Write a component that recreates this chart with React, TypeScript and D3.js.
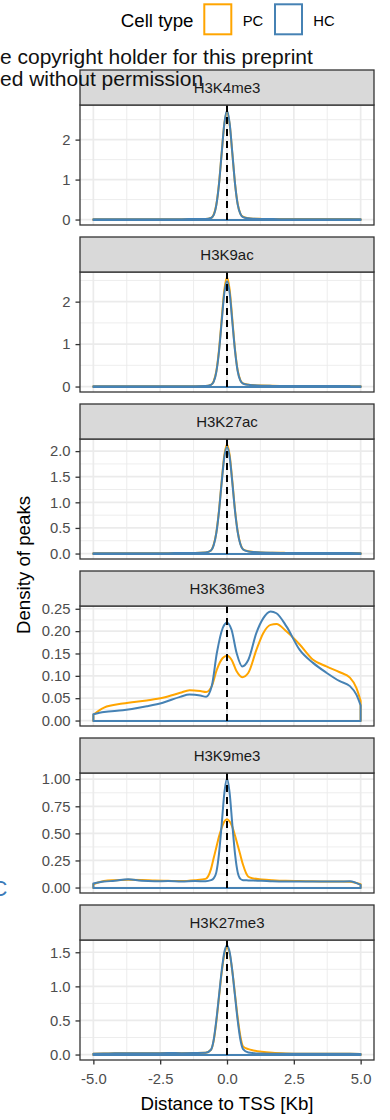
import * as d3 from "d3";
import { useEffect, useRef } from "react";

// facets top to bottom
const marks = ["H3K4me3", "H3K9ac", "H3K27ac", "H3K36me3", "H3K9me3", "H3K27me3"];
const cellTypes = ["PC", "HC"];
const cellColors = ["#FFA500", "#4682B4"];

// distance to TSS (kb) for the sharp peak panels
const xPeak = [-5, -4.6, -4.2, -3.7, -3.2, -2.7, -2.2, -1.7, -1.2, -0.8, -0.6, -0.5, -0.4, -0.3, -0.2, -0.1, 0,
  0.1, 0.2, 0.3, 0.4, 0.5, 0.6, 0.8, 1.0, 1.3, 1.7, 2.2, 2.7, 3.2, 3.7, 4.2, 4.6, 5];

const k4me3PC = [0.01, 0.01, 0.01, 0.01, 0.01, 0.01, 0.01, 0.01, 0.012, 0.015, 0.04, 0.12, 0.37, 0.9, 1.66, 2.39, 2.7,
  2.38, 1.65, 0.9, 0.39, 0.15, 0.07, 0.035, 0.022, 0.016, 0.013, 0.012, 0.012, 0.011, 0.011, 0.011, 0.011, 0.01];
const k4me3HC = [0.01, 0.01, 0.01, 0.01, 0.01, 0.01, 0.01, 0.01, 0.012, 0.015, 0.04, 0.11, 0.36, 0.88, 1.65, 2.4, 2.73,
  2.4, 1.66, 0.9, 0.38, 0.14, 0.06, 0.03, 0.02, 0.015, 0.012, 0.01, 0.01, 0.01, 0.01, 0.01, 0.01, 0.01];

const k9acPC = [0.006, 0.006, 0.006, 0.006, 0.006, 0.007, 0.007, 0.008, 0.009, 0.012, 0.04, 0.12, 0.36, 0.86, 1.58, 2.28, 2.57,
  2.28, 1.58, 0.87, 0.38, 0.15, 0.075, 0.045, 0.032, 0.022, 0.016, 0.013, 0.012, 0.012, 0.012, 0.011, 0.01, 0.008];
const k9acHC = [0.006, 0.006, 0.006, 0.006, 0.006, 0.007, 0.007, 0.008, 0.009, 0.012, 0.04, 0.11, 0.34, 0.82, 1.52, 2.2, 2.48,
  2.2, 1.52, 0.84, 0.36, 0.14, 0.07, 0.04, 0.03, 0.02, 0.015, 0.012, 0.012, 0.012, 0.011, 0.011, 0.01, 0.008];

const k27acPC = [0.005, 0.005, 0.005, 0.006, 0.006, 0.007, 0.008, 0.01, 0.012, 0.02, 0.06, 0.17, 0.41, 0.84, 1.41, 1.92, 2.13,
  1.92, 1.41, 0.85, 0.43, 0.19, 0.085, 0.045, 0.032, 0.022, 0.016, 0.013, 0.012, 0.011, 0.01, 0.01, 0.01, 0.006];
const k27acHC = [0.005, 0.005, 0.005, 0.006, 0.006, 0.007, 0.008, 0.01, 0.012, 0.02, 0.06, 0.16, 0.4, 0.82, 1.38, 1.88, 2.08,
  1.88, 1.38, 0.83, 0.42, 0.18, 0.08, 0.04, 0.03, 0.02, 0.015, 0.012, 0.011, 0.01, 0.01, 0.01, 0.01, 0.006];

const k9me3PC = [0.03, 0.06, 0.068, 0.072, 0.07, 0.065, 0.062, 0.06, 0.068, 0.08, 0.17, 0.27, 0.37, 0.47, 0.55, 0.61, 0.63,
  0.61, 0.56, 0.48, 0.39, 0.3, 0.21, 0.1, 0.083, 0.075, 0.068, 0.062, 0.06, 0.058, 0.056, 0.055, 0.054, 0.03];
const k9me3HC = [0.037, 0.055, 0.062, 0.077, 0.062, 0.058, 0.06, 0.055, 0.06, 0.058, 0.068, 0.085, 0.14, 0.31, 0.58, 0.87, 1.007,
  0.87, 0.58, 0.31, 0.14, 0.08, 0.068, 0.066, 0.064, 0.062, 0.057, 0.055, 0.055, 0.055, 0.055, 0.056, 0.058, 0.024];

const k27me3PC = [0.012, 0.015, 0.018, 0.02, 0.018, 0.02, 0.022, 0.02, 0.022, 0.025, 0.07, 0.2, 0.48, 0.84, 1.2, 1.47, 1.57,
  1.48, 1.22, 0.88, 0.54, 0.27, 0.12, 0.08, 0.06, 0.04, 0.025, 0.016, 0.013, 0.012, 0.01, 0.01, 0.01, 0.008];
const k27me3HC = [0.012, 0.015, 0.018, 0.02, 0.018, 0.02, 0.022, 0.02, 0.022, 0.025, 0.07, 0.21, 0.5, 0.86, 1.22, 1.5, 1.6,
  1.5, 1.22, 0.86, 0.5, 0.22, 0.08, 0.03, 0.02, 0.015, 0.012, 0.01, 0.01, 0.01, 0.01, 0.01, 0.01, 0.008];

// H3K36me3 is broad, own x grid
const xK36 = [-5, -4.6, -3.9, -3.0, -2.4, -1.75, -1.4, -1.0, -0.78, -0.57, -0.38, -0.16, 0, 0.17, 0.36, 0.57, 0.8,
  1.1, 1.36, 1.63, 1.85, 2.23, 2.72, 3.22, 3.72, 4.22, 4.6, 4.84, 5];
const k36me3PC = [0.013, 0.029, 0.038, 0.045, 0.051, 0.062, 0.068, 0.066, 0.064, 0.077, 0.114, 0.14, 0.145, 0.136, 0.11,
  0.097, 0.107, 0.158, 0.196, 0.214, 0.216, 0.199, 0.17, 0.136, 0.121, 0.108, 0.096, 0.073, 0.044];
const k36me3HC = [0.014, 0.019, 0.023, 0.032, 0.04, 0.053, 0.058, 0.056, 0.053, 0.077, 0.151, 0.207, 0.219, 0.203, 0.151,
  0.121, 0.136, 0.196, 0.229, 0.244, 0.24, 0.21, 0.158, 0.129, 0.107, 0.088, 0.077, 0.058, 0.034];

const xTicks = [-5, -2.5, 0, 2.5, 5];
const xMinor = [-3.75, -1.25, 1.25, 3.75];
const yTicks = [[0, 1, 2], [0, 1, 2], [0, 0.5, 1, 1.5, 2], [0, 0.05, 0.1, 0.15, 0.2, 0.25], [0, 0.25, 0.5, 0.75, 1], [0, 0.5, 1, 1.5]];
const yLabels = [["0", "1", "2"], ["0", "1", "2"], ["0.0", "0.5", "1.0", "1.5", "2.0"],
  ["0.00", "0.05", "0.10", "0.15", "0.20", "0.25"], ["0.00", "0.25", "0.50", "0.75", "1.00"], ["0.0", "0.5", "1.0", "1.5"]];

const FONT = "'Liberation Sans', Arial, Helvetica, sans-serif";

export default function App() {
  const ref = useRef<SVGSVGElement>(null);

  useEffect(() => {
    const svg = d3.select(ref.current);
    svg.selectAll("*").remove();

    const W = 390, H = 1120;
    const left = 80, right = 374;
    const top0 = 70, step = 167, stripH = 35, plotH = 120;

    const panels = [
      { name: marks[0], xs: xPeak, series: [k4me3PC, k4me3HC] },
      { name: marks[1], xs: xPeak, series: [k9acPC, k9acHC] },
      { name: marks[2], xs: xPeak, series: [k27acPC, k27acHC] },
      { name: marks[3], xs: xK36, series: [k36me3PC, k36me3HC] },
      { name: marks[4], xs: xPeak, series: [k9me3PC, k9me3HC] },
      { name: marks[5], xs: xPeak, series: [k27me3PC, k27me3HC] },
    ];

    const x = d3.scaleLinear().domain([-5.5, 5.5]).range([left, right]);

    svg.append("rect").attr("width", W).attr("height", H).attr("fill", "#fff");

    panels.forEach((p, i) => {
      const sTop = top0 + i * step;
      const pTop = sTop + stripH;
      const pBot = pTop + plotH;
      const ymax = d3.max(p.series.flat()) as number;
      const y = d3.scaleLinear().domain([-0.05 * ymax, 1.05 * ymax]).range([pBot, pTop]);
      const g = svg.append("g");

      g.append("rect").attr("x", left).attr("y", pTop).attr("width", right - left).attr("height", plotH).attr("fill", "#fff");

      // minor grid
      const ticks = yTicks[i];
      const yStep = ticks[1] - ticks[0];
      const yMinor = ticks.map(t => t + yStep / 2).filter(v => v <= y.domain()[1]);
      g.selectAll(".ymin").data(yMinor).enter().append("line")
        .attr("x1", left).attr("x2", right).attr("y1", d => y(d)).attr("y2", d => y(d))
        .attr("stroke", "#ebebeb").attr("stroke-width", 0.9);
      g.selectAll(".xmin").data(xMinor).enter().append("line")
        .attr("y1", pTop).attr("y2", pBot).attr("x1", d => x(d)).attr("x2", d => x(d))
        .attr("stroke", "#ebebeb").attr("stroke-width", 0.9);
      // major grid
      g.selectAll(".ymaj").data(ticks).enter().append("line")
        .attr("x1", left).attr("x2", right).attr("y1", d => y(d)).attr("y2", d => y(d))
        .attr("stroke", "#ebebeb").attr("stroke-width", 1.7);
      g.selectAll(".xmaj").data(xTicks).enter().append("line")
        .attr("y1", pTop).attr("y2", pBot).attr("x1", d => x(d)).attr("x2", d => x(d))
        .attr("stroke", "#ebebeb").attr("stroke-width", 1.7);

      // density outlines, closed to the baseline like geom_density
      const y0 = Math.round(y(0));
      const line = d3.line<number>()
        .x((_, k) => x(p.xs[k]))
        .y(d => y(d))
        .curve(d3.curveMonotoneX);
      p.series.forEach((vals, s) => {
        const d = line(vals) + `L${x(p.xs[p.xs.length - 1])},${y0}L${x(p.xs[0])},${y0}Z`;
        g.append("path").attr("d", d).attr("fill", "none")
          .attr("stroke", cellColors[s]).attr("stroke-width", 2).attr("stroke-linejoin", "round");
      });

      // TSS line
      g.append("line").attr("x1", x(0)).attr("x2", x(0)).attr("y1", pTop).attr("y2", pBot)
        .attr("stroke", "#000").attr("stroke-width", 2).attr("stroke-dasharray", "7,5");

      g.append("rect").attr("x", left).attr("y", pTop).attr("width", right - left).attr("height", plotH)
        .attr("fill", "none").attr("stroke", "#333").attr("stroke-width", 1.3);

      // strip
      g.append("rect").attr("x", left).attr("y", sTop).attr("width", right - left).attr("height", stripH)
        .attr("fill", "#d9d9d9").attr("stroke", "#333").attr("stroke-width", 1.3);
      g.append("text").attr("x", (left + right) / 2).attr("y", sTop + stripH / 2 + 5.5)
        .attr("text-anchor", "middle").attr("font-family", FONT).attr("font-size", 15).attr("fill", "#1a1a1a")
        .text(p.name);

      // y axis
      const ya = g.append("g").attr("transform", `translate(${left},0)`)
        .call(d3.axisLeft(y).tickValues(ticks).tickFormat((_, k) => yLabels[i][k]).tickSizeInner(4.5).tickSizeOuter(0).tickPadding(5));
      ya.select(".domain").remove();
      ya.selectAll("line").attr("stroke", "#333").attr("stroke-width", 1.3);
      ya.selectAll("text").attr("font-family", FONT).attr("font-size", 14.8).attr("fill", "#4d4d4d");

      if (i === panels.length - 1) {
        const xa = g.append("g").attr("transform", `translate(0,${pBot})`)
          .call(d3.axisBottom(x).tickValues(xTicks).tickFormat(d => (d as number).toFixed(1)).tickSizeInner(4.5).tickSizeOuter(0).tickPadding(8.5));
        xa.select(".domain").remove();
        xa.selectAll("line").attr("stroke", "#333").attr("stroke-width", 1.3);
        xa.selectAll("text").attr("font-family", FONT).attr("font-size", 14.8).attr("fill", "#4d4d4d");
      }
    });

    // axis titles
    svg.append("text").attr("x", (left + right) / 2).attr("y", 1110).attr("text-anchor", "middle")
      .attr("font-family", FONT).attr("font-size", 18.7).attr("fill", "#000").text("Distance to TSS [Kb]");
    svg.append("text").attr("transform", `translate(30,${(top0 + top0 + 5 * step + stripH + plotH) / 2}) rotate(-90)`)
      .attr("text-anchor", "middle").attr("font-family", FONT).attr("font-size", 18.7).attr("fill", "#000")
      .text("Density of peaks");

    // legend
    svg.append("text").attr("x", 193.5).attr("y", 27).attr("text-anchor", "end")
      .attr("font-family", FONT).attr("font-size", 18.7).attr("fill", "#000").text("Cell type");
    const keyX = [204.3, 275];
    const labX = [242.7, 313.3];
    cellTypes.forEach((c, k) => {
      svg.append("rect").attr("x", keyX[k]).attr("y", 4.3).attr("width", 27).attr("height", 30)
        .attr("fill", "#fff").attr("stroke", cellColors[k]).attr("stroke-width", 2);
      svg.append("text").attr("x", labX[k]).attr("y", 26).attr("font-family", FONT).attr("font-size", 14.8)
        .attr("fill", "#000").text(c);
    });

    // bits of the surrounding page that show through
    svg.append("text").attr("x", 0).attr("y", 64).attr("font-family", FONT).attr("font-size", 21)
      .attr("fill", "#111").text("e copyright holder for this preprint");
    svg.append("text").attr("x", 0).attr("y", 86).attr("font-family", FONT).attr("font-size", 21)
      .attr("fill", "#111").text("ed without permission");
    svg.append("text").attr("x", -8.5).attr("y", 896).attr("font-family", FONT).attr("font-size", 22)
      .attr("fill", "#3a7ab8").text("C");
  }, []);

  return (
    <div style={{ position: "absolute", left: 0, top: 0 }}>
      <svg ref={ref} width={390} height={1120} style={{ display: "block" }}></svg>
    </div>
  );
}
